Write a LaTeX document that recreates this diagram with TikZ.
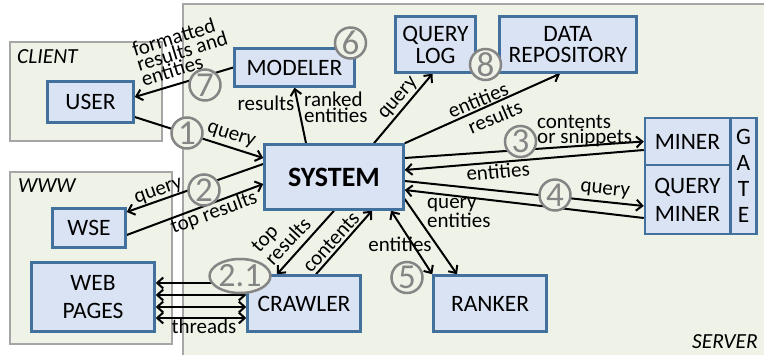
\documentclass[tikz,border=0pt]{standalone}
\usepackage{fontspec}
\setmainfont{Carlito}
\usetikzlibrary{arrows.meta,shapes.geometric,calc}
\pgfdeclarelayer{back}
\pgfdeclarelayer{edges}
\pgfsetlayers{back,edges,main}
\definecolor{bgc}{HTML}{EFF3E7}
\definecolor{boxfill}{HTML}{DAE3F3}
\definecolor{boxline}{HTML}{41719C}
\definecolor{arealine}{HTML}{A6A6A6}
\definecolor{numc}{HTML}{858585}
\begin{document}
\begin{tikzpicture}[x=1pt,y=-1pt,
  box/.style={draw=boxline, fill=boxfill, line width=2.5pt, inner sep=0pt, align=center, font=\fontsize{23.5}{22}\selectfont},
  area/.style={draw=arealine, fill=bgc, line width=1.8pt},
  arealbl/.style={inner sep=0pt, font=\fontsize{21.5}{22}\selectfont\itshape},
  num/.style={circle, draw=numc, fill=bgc, line width=2.5pt, minimum size=31pt, inner sep=0pt, text=numc, font=\fontsize{35}{35}\selectfont},
  arr/.style={line width=2pt, -{Straight Barb[length=6pt,width=11pt]}},
  darr/.style={line width=2pt, {Straight Barb[length=6pt,width=11pt]}-{Straight Barb[length=6pt,width=11pt]}},
  lbl/.style={inner sep=0pt, font=\fontsize{21}{14}\selectfont},
  ]
\useasboundingbox (0,0) rectangle (764,355);
\begin{pgfonlayer}{back}
\path[area] (183,4) rectangle (767,358);
\path[area] (10,42) rectangle (162,141);
\path[area] (10,172) rectangle (172,344);
\end{pgfonlayer}
\node[arealbl, anchor=west] (clientlbl) at (17,57) {CLIENT};
\node[arealbl, anchor=west] (wwwlbl) at (18,186) {WWW};
\node[arealbl, anchor=east] (serverlbl) at (758,342) {SERVER};

% boxes
\node[box, minimum width=86pt, minimum height=41pt] (user) at (90.5,102) {USER};
\node[box, minimum width=73pt, minimum height=39pt] (wse) at (89,228) {WSE};
\node[box, minimum width=123pt, minimum height=69pt, font=\fontsize{23.5}{28}\selectfont] (web) at (93,297) {WEB\\PAGES};
\node[box, minimum width=120pt, minimum height=38pt] (modeler) at (294.5,67.5) {MODELER};
\node[box, minimum width=80pt, minimum height=56pt] (qlog) at (435.5,44.5) {QUERY\\LOG};
\node[box, minimum width=137pt, minimum height=56pt, font=\fontsize{23.5}{20.5}\selectfont] (data) at (568,44.5) {DATA\\REPOSITORY};
\node[box, minimum width=139pt, minimum height=65pt, font=\fontsize{28}{28}\bfseries] (sys) at (334,177) {SYSTEM};
\node[box, minimum width=85pt, minimum height=47pt] (miner) at (687.5,141.5) {MINER};
\node[box, minimum width=85pt, minimum height=69pt, font=\fontsize{23.5}{28}\selectfont] (qminer) at (687.5,199.5) {QUERY\\MINER};
\node[box, minimum width=26pt, minimum height=116pt, font=\fontsize{23.5}{26}\selectfont] (gate) at (743.5,176) {G\\A\\T\\E};
\node[box, minimum width=113pt, minimum height=56pt] (crawler) at (304,303.5) {CRAWLER};
\node[box, minimum width=113pt, minimum height=56pt] (ranker) at (490,303.5) {RANKER};

% step markers
\node[num] (n7) at (205,85) {7};
\node[num] (n1) at (187,133) {1};
\node[num] (n2) at (204,190) {2};
\node[num] (n6) at (350.5,43) {6};
\node[num] (n8) at (485.5,64.5) {8};
\node[num] (n3) at (520.5,141.5) {3};
\node[num] (n4) at (555,195) {4};
\node[num] (n5) at (407,277.5) {5};
\node[num, ellipse, minimum width=50pt, minimum height=34pt, font=\fontsize{34}{34}\selectfont] (n21) at (240,276) {2.1};

% connectors
\begin{pgfonlayer}{edges}
\draw[arr] (modeler.west) -- ([yshift=5pt]user.east);
\draw[arr] ([yshift=-15pt]user.east) -- ([yshift=19pt]sys.west);
\draw[arr] ([yshift=13pt]sys.west) -- ([yshift=16pt]wse.east);
\draw[arr] ([yshift=-7pt]wse.east) -- ([yshift=-7pt]sys.west);
\draw[arr] ([xshift=-28pt]sys.north) -- (modeler.south);
\draw[arr] ([xshift=40pt]sys.north) -- ([xshift=-3pt]qlog.south);
\draw[arr] (sys.north east) -- ([xshift=-8pt]data.south);
\draw[arr] ([yshift=19pt]sys.east) -- (miner.west);
\draw[arr] ([yshift=-8.5pt]miner.west) -- ([yshift=7pt]sys.east);
\draw[arr] ([yshift=-4pt]sys.east) -- ([yshift=-6.5pt]qminer.west);
\draw[arr] ([yshift=-18.5pt]qminer.west) -- ([yshift=-13pt]sys.east);
\draw[darr] ([xshift=57pt]sys.south) -- (ranker.north west);
\draw[arr] ([yshift=-22pt]sys.east) -- ([xshift=-33pt]ranker.north);
\draw[arr] (sys.south) -- ([xshift=-27pt]crawler.north);
\draw[arr] ([xshift=12pt]crawler.north) -- ([xshift=38pt]sys.south);
\draw[arr] ([yshift=-7pt]n21.center) -- ([yshift=14pt]web.east);
\draw[darr] ([yshift=8.5pt]crawler.west) -- ([yshift=2pt]web.east);
\draw[darr] ([yshift=-3.5pt]crawler.west) -- ([yshift=-10pt]web.east);
\draw[darr] ([yshift=-14.5pt]crawler.west) -- ([yshift=-21pt]web.east);
\end{pgfonlayer}

% labels
\node[lbl, align=left, rotate=17, font=\fontsize{21}{15.5}\selectfont] (l7) at (182,51) {formatted\\results and\\entities};
\node[lbl, rotate=-18] (l1) at (231,136) {query};
\node[lbl, rotate=19] (l2a) at (159,192) {query};
\node[lbl, rotate=20] (l2b) at (214,213) {top results};
\node[lbl] (l6a) at (266,103) {results};
\node[lbl, anchor=west, align=left] (l6b) at (304,107) {ranked\\entities};
\node[lbl, rotate=49] (lq) at (399,99) {query};
\node[lbl, rotate=23] (l8a) at (478,100) {entities};
\node[lbl, rotate=23] (l8b) at (495,117) {results};
\node[lbl, anchor=west, align=left] (l3a) at (537,131) {contents\\or snippets};
\node[lbl, rotate=5] (l3b) at (498,171) {entities};
\node[lbl, rotate=-6] (l4a) at (605,191) {query};
\node[lbl, anchor=west, align=left, font=\fontsize{21}{14.5}\selectfont] (l4b) at (427,213) {query\\entities};
\node[lbl] (l5) at (400,244) {entities};
\node[lbl, rotate=47, align=left, font=\fontsize{21}{17}\selectfont] (l21a) at (281,235) {top\\results};
\node[lbl, rotate=48] (l21b) at (331,242) {contents};
\node[lbl] (lth) at (204,326) {threads};
\end{tikzpicture}
\end{document}
